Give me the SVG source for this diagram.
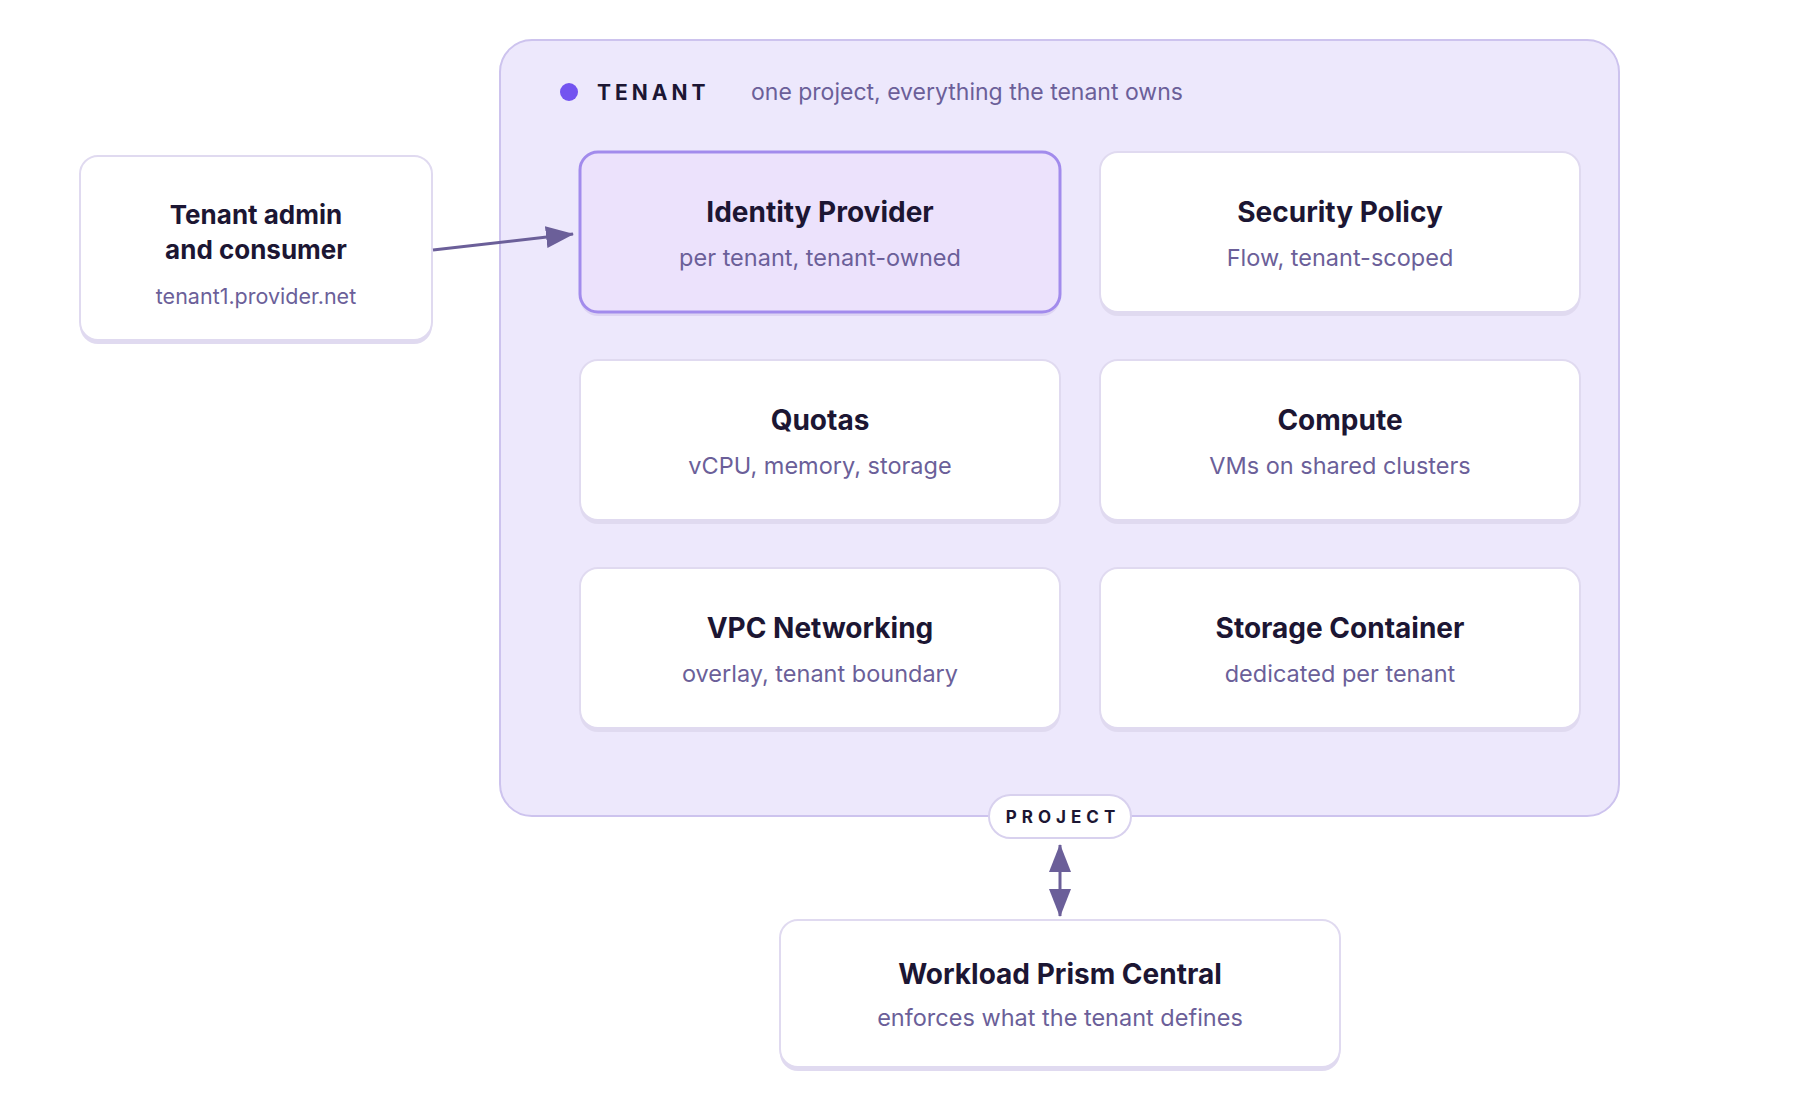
<svg xmlns="http://www.w3.org/2000/svg" width="1800" height="1120" viewBox="0 0 1800 1120">
<defs>
<style>
.t{font-family:Inter,"Noto Sans",sans-serif;font-weight:700;fill:#1c1633;text-anchor:middle}
.s{font-family:Inter,"Noto Sans",sans-serif;font-weight:400;fill:#6b5f99;text-anchor:middle}
.card{fill:#ffffff;stroke:#e0daf0;stroke-width:2}
.sh{fill:#e0daf0}
.conn{stroke:#6b5f99;stroke-width:3;fill:none}
</style>
<marker id="ah" viewBox="0 0 28 22" refX="27" refY="11" markerWidth="28" markerHeight="22" markerUnits="userSpaceOnUse" orient="auto-start-reverse">
<path d="M0,0 L28,11 L0,22 Z" fill="#6b5f99"/>
</marker>
</defs>
<rect width="1800" height="1120" fill="#ffffff"/>
<g id="tenant">
<rect x="500" y="40" width="1119" height="776" rx="32" fill="#ede8fc" stroke="#cdc3ee" stroke-width="2"/>
<circle cx="569" cy="92" r="9" fill="#7353f0"/>
<text x="597" y="100" font-family="Inter,'Noto Sans',sans-serif" font-weight="700" font-size="21" letter-spacing="4" fill="#1c1633">TENANT</text>
<text x="751" y="100" font-family="Inter,'Noto Sans',sans-serif" font-size="23" fill="#6b5f99">one project, everything the tenant owns</text>
</g>
<g id="admin">
<rect class="sh" x="80" y="160" width="352" height="184" rx="18"/>
<rect class="card" x="80" y="156" width="352" height="184" rx="18"/>
<text class="t" x="256" y="224" font-size="26">Tenant admin</text>
<text class="t" x="256" y="259" font-size="26">and consumer</text>
<text class="s" x="256" y="304" font-size="21.5">tenant1.provider.net</text>
</g>
<g id="idp">
<rect x="580" y="156" width="480" height="160" rx="18" fill="#ddd4f3"/>
<rect x="580" y="152" width="480" height="160" rx="18" fill="#ece2fc" stroke="#a28bec" stroke-width="3"/>
<text class="t" x="820" y="222" font-size="28">Identity Provider</text>
<text class="s" x="820" y="266" font-size="23.5">per tenant, tenant-owned</text>
</g>
<g id="security">
<rect class="sh" x="1100" y="156" width="480" height="160" rx="18"/>
<rect class="card" x="1100" y="152" width="480" height="160" rx="18"/>
<text class="t" x="1340" y="222" font-size="28">Security Policy</text>
<text class="s" x="1340" y="266" font-size="23.5">Flow, tenant-scoped</text>
</g>
<g id="quotas">
<rect class="sh" x="580" y="364" width="480" height="160" rx="18"/>
<rect class="card" x="580" y="360" width="480" height="160" rx="18"/>
<text class="t" x="820" y="430" font-size="28">Quotas</text>
<text class="s" x="820" y="474" font-size="23.5">vCPU, memory, storage</text>
</g>
<g id="compute">
<rect class="sh" x="1100" y="364" width="480" height="160" rx="18"/>
<rect class="card" x="1100" y="360" width="480" height="160" rx="18"/>
<text class="t" x="1340" y="430" font-size="28">Compute</text>
<text class="s" x="1340" y="474" font-size="23.5">VMs on shared clusters</text>
</g>
<g id="vpc">
<rect class="sh" x="580" y="572" width="480" height="160" rx="18"/>
<rect class="card" x="580" y="568" width="480" height="160" rx="18"/>
<text class="t" x="820" y="638" font-size="28">VPC Networking</text>
<text class="s" x="820" y="682" font-size="23.5">overlay, tenant boundary</text>
</g>
<g id="storage">
<rect class="sh" x="1100" y="572" width="480" height="160" rx="18"/>
<rect class="card" x="1100" y="568" width="480" height="160" rx="18"/>
<text class="t" x="1340" y="638" font-size="28">Storage Container</text>
<text class="s" x="1340" y="682" font-size="23.5">dedicated per tenant</text>
</g>
<g id="project">
<rect x="989" y="795" width="142" height="43" rx="21.5" fill="#ffffff" stroke="#d8d1ee" stroke-width="2"/>
<text x="1063" y="823" font-family="Inter,'Noto Sans',sans-serif" font-weight="700" font-size="17" letter-spacing="5" fill="#1c1633" text-anchor="middle">PROJECT</text>
</g>
<g id="workload">
<rect class="sh" x="780" y="924" width="560" height="147" rx="18"/>
<rect class="card" x="780" y="920" width="560" height="147" rx="18"/>
<text class="t" x="1060" y="984" font-size="28">Workload Prism Central</text>
<text class="s" x="1060" y="1026" font-size="23.5">enforces what the tenant defines</text>
</g>
<g id="connectors">
<line class="conn" x1="433" y1="250" x2="573" y2="234" marker-end="url(#ah)"/>
<line class="conn" x1="1060" y1="845" x2="1060" y2="916" marker-start="url(#ah)" marker-end="url(#ah)"/>
</g>
</svg>
